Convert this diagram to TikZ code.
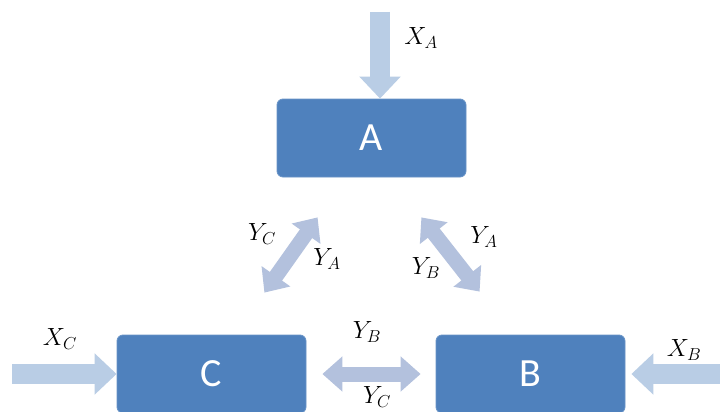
\documentclass[tikz,border=0pt]{standalone}
\usepackage{fontspec}
\newfontfamily\boxfont{Carlito}
\usetikzlibrary{positioning,arrows.meta,calc}
\definecolor{blockfill}{HTML}{4F81BD}
\definecolor{inflowcol}{HTML}{B9CDE5}
\definecolor{swapcol}{HTML}{B3C1DD}

\begin{document}
\begin{tikzpicture}[x=1pt,y=-1pt,
  blockbox/.style={rounded corners=6pt, fill=blockfill, draw=blockfill!85!white, line width=0.8pt, minimum width=189pt, minimum height=78pt, text=white, font=\boxfont\fontsize{40}{44}\selectfont},
  inflow/.style={draw=inflowcol, line width=20pt, -{Triangle[width=40pt,length=22pt]}},
  swap/.style={draw=swapcol, line width=15pt, {Triangle[width=34pt,length=20pt]}-{Triangle[width=34pt,length=20pt]}},
  lbl/.style={font=\fontsize{24}{28}\selectfont}]
\useasboundingbox (0,0) rectangle (720,412);
\fill[white] (0,0) rectangle (720,412);
\begin{scope}
\clip (0,0) rectangle (720,412);
\node[blockbox] (A) at (371.5,138) {A};
\node[blockbox] (C) at (211.5,374) {C};
\node[blockbox] (B) at (530.5,374) {B};
\end{scope}
% outside inputs
\coordinate (xa) at (380,12);
\coordinate (xc) at (12,374);
\coordinate (xb) at (730,374);
\draw[inflow] (xa) -- (xa |- A.north);
\draw[inflow] (xc) -- (C.west);
\draw[inflow] (xb) -- ([xshift=6pt]B.east);
% exchanges
\coordinate (ca) at ($(C.north east)+(-42,-42)$);
\coordinate (ac) at ($(A.south west)+(41,40)$);
\coordinate (ab) at ($(A.south east)+(-45,40)$);
\coordinate (ba) at ($(B.north west)+(44,-43)$);
\draw[swap] (ca) -- (ac);
\draw[swap] (ab) -- (ba);
\draw[swap, shorten <=16pt, shorten >=15pt] (C.east) -- (B.west);
% labels
\node[lbl] (lxa) at (421,38) {$X_A$};
\node[lbl] (lyc1) at (262,234) {$Y_C$};
\node[lbl] (lya1) at (327,259) {$Y_A$};
\node[lbl] (lya2) at (484,237) {$Y_A$};
\node[lbl] (lyb1) at (426,268) {$Y_B$};
\node[lbl] (lyb2) at (367,332) {$Y_B$};
\node[lbl] (lyc2) at (377,397) {$Y_C$};
\node[lbl] (lxc) at (60,339) {$X_C$};
\node[lbl] (lxb) at (684,350) {$X_B$};
\end{tikzpicture}
\end{document}
